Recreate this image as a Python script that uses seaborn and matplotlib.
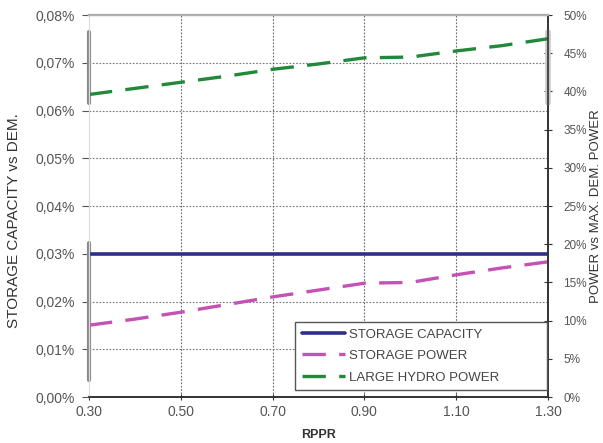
import matplotlib
matplotlib.use("Agg")
import numpy as np
import pandas as pd
import seaborn as sns
from matplotlib import pyplot as plt

# data
rppr = [0.30, 0.40, 0.50, 0.60, 0.70, 0.80, 0.90, 1.00, 1.10, 1.20, 1.30]
storage_capacity = [0.03] * 11          # % of demand (left axis)
storage_power = [9.4, 10.2, 11.1, 12.1, 13.1, 14.0, 14.9, 15.0, 16.0, 16.9, 17.7]   # % (right axis)
large_hydro = [39.6, 40.4, 41.2, 42.0, 42.9, 43.6, 44.4, 44.5, 45.3, 46.0, 46.9]    # % (right axis)

x_ticks = [0.30, 0.50, 0.70, 0.90, 1.10, 1.30]
left_ticks = [0.00, 0.01, 0.02, 0.03, 0.04, 0.05, 0.06, 0.07, 0.08]
right_ticks = [0, 5, 10, 15, 20, 25, 30, 35, 40, 45, 50]

df = pd.DataFrame({"rppr": rppr, "cap": storage_capacity,
                   "spow": storage_power, "hydro": large_hydro})

sns.set_theme(style="ticks")
plt.rcParams['font.family'] = ['Liberation Sans', 'DejaVu Sans']

fig = plt.figure(figsize=(6.03, 4.43), dpi=100)
ax = fig.add_axes([0.1476, 0.1038, 0.7612, 0.8622])
ax2 = ax.twinx()

c_blue = "#2e2f8a"
c_pink = "#c452b4"
c_green = "#23893a"
tick_col = "#555555"

sns.lineplot(data=df, x="rppr", y="cap", ax=ax, color=c_blue, lw=2.6,
             label="STORAGE CAPACITY", legend=False)
sns.lineplot(data=df, x="rppr", y="spow", ax=ax2, color=c_pink, lw=2.4,
             dashes=(7, 4), label="STORAGE POWER", legend=False)
sns.lineplot(data=df, x="rppr", y="hydro", ax=ax2, color=c_green, lw=2.4,
             dashes=(7, 4), label="LARGE HYDRO POWER", legend=False)

ax.set_xlim(0.30, 1.30)
ax.set_ylim(0, 0.08)
ax2.set_ylim(0, 50)

ax.set_xticks(x_ticks)
ax.set_xticklabels([f"{v:.2f}" for v in x_ticks])
ax.set_yticks(left_ticks)
ax.set_yticklabels([f"{v:.2f}%".replace(".", ",") for v in left_ticks])
ax2.set_yticks(right_ticks)
ax2.set_yticklabels([f"{v}%" for v in right_ticks])

# dotted grid
for v in left_ticks[1:-1]:
    ax.axhline(v, color="#777777", lw=0.8, ls=(0, (1.5, 1.5)), zorder=0)
for v in x_ticks[1:-1]:
    ax.axvline(v, color="#666666", lw=0.8, ls=(0, (1.5, 1.5)), zorder=0)

# grey bars left over on the axes in the original
ax.axvline(0.30, ymin=0.045, ymax=0.403, color="#888888", lw=3, zorder=1, clip_on=False)
ax.axvline(0.30, ymin=0.77, ymax=0.955, color="#888888", lw=3, zorder=1, clip_on=False)
ax2.axvline(1.30, ymin=0.77, ymax=0.955, color="#c8c8c8", lw=4, zorder=1, clip_on=False)

for a in (ax, ax2):
    a.spines["top"].set_color("#b0b0b0")
    a.spines["top"].set_linewidth(1.6)
    a.spines["left"].set_color("#dddddd")
    a.spines["left"].set_linewidth(0.8)
    a.spines["bottom"].set_color("#333333")
    a.spines["bottom"].set_linewidth(1.2)
    a.spines["right"].set_color("#333333")
    a.spines["right"].set_linewidth(1.2)

ax.tick_params(axis="y", length=5, width=0.8, color="#555555", labelsize=10,
               labelcolor=tick_col, pad=5)
ax.tick_params(axis="x", length=4, width=0.8, color="#333333", labelsize=10,
               labelcolor=tick_col, pad=4, direction="inout")
ax2.tick_params(axis="y", length=6, width=0.8, color="#333333", labelsize=8.5,
                labelcolor=tick_col, pad=8, direction="inout")

ax.set_xlabel("RPPR", fontsize=9, fontweight="bold", color="#333333", va="center")
ax.xaxis.set_label_coords(0.5, -0.1)
ax.set_ylabel("STORAGE CAPACITY vs DEM.", fontsize=11, color="#333333", va="center")
ax.yaxis.set_label_coords(-0.163, 0.463)
ax2.set_ylabel("POWER vs MAX. DEM. POWER", fontsize=9.5, color="#333333",
               rotation=90, va="center")
ax2.yaxis.set_label_coords(1.105, 0.5)

h1, l1 = ax.get_legend_handles_labels()
h2, l2 = ax2.get_legend_handles_labels()
leg = ax2.legend(h1 + h2, l1 + l2, loc="lower left", mode="expand",
                 bbox_to_anchor=(0.449, 0.018, 0.549, 0.19),
                 fontsize=9.5, frameon=True, fancybox=False, framealpha=1,
                 edgecolor="#555555", handlelength=3.3, handletextpad=0.3,
                 borderpad=0.5, labelspacing=0.7, borderaxespad=0)
leg.get_frame().set_linewidth(1.0)
for t in leg.get_texts():
    t.set_color("#444444")

fig.savefig("out.png", dpi=100)
